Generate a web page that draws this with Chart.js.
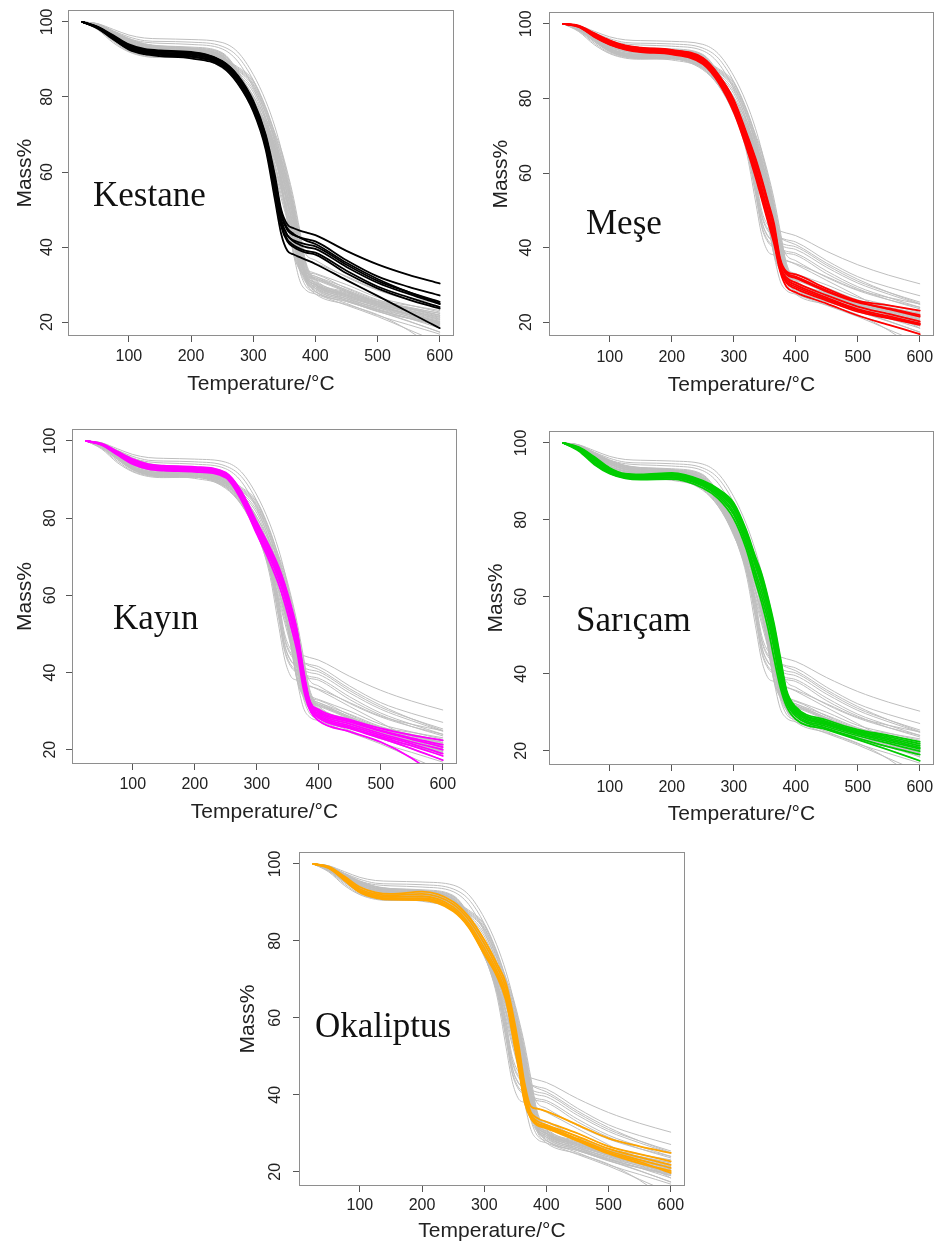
<!DOCTYPE html>
<html>
<head>
<meta charset="utf-8">
<script src="https://cdn.jsdelivr.net/npm/chart.js@4.4.1/dist/chart.umd.min.js"></script>
<style>
html,body{margin:0;padding:0;background:#fff;}
body{width:942px;height:1249px;position:relative;overflow:hidden;}
canvas{position:absolute;}
</style>
</head>
<body>
<canvas id="c1"></canvas>
<canvas id="c2"></canvas>
<canvas id="c3"></canvas>
<canvas id="c4"></canvas>
<canvas id="c5"></canvas>
<script>
// ---------------- DATA ----------------
const temps = [25,50,75,100,125,150,200,250,275,300,320,335,345,355,365,375,385,400,450,500,550,600];
const xTicks = [100,200,300,400,500,600];
const yTicks = [20,40,60,80,100];
const xTitle = 'Temperature/°C';
const yTitle = 'Mass%';
const speciesNames = ['Kestane','Meşe','Kayın','Sarıçam','Okaliptus'];
const speciesColors = ['#000000','#FF0000','#FF00FF','#00CD00','#FFA500'];

const kestane = [
 [100,98.7,96.4,94.0,92.8,92.4,92.0,89.6,85.8,79.0,70.0,59.0,50.0,46.0,45.0,44.4,43.9,43.2,39.0,35.4,32.6,30.3],
 [100,98.6,96.1,93.7,92.5,92.1,91.7,89.3,85.3,78.3,69.0,57.5,48.5,44.5,43.2,42.6,42.1,41.5,36.5,32.2,29.4,27.1],
 [100,98.5,95.8,93.3,92.1,91.6,91.2,88.9,84.7,77.5,68.0,56.0,47.0,43.0,41.8,41.2,40.7,40.2,35.3,31.0,28.0,25.4],
 [100,98.5,95.9,93.4,92.2,91.8,91.4,89.0,84.9,77.8,68.3,56.5,47.2,43.2,41.5,40.6,40.0,39.5,34.7,30.5,27.5,24.8],
 [100,98.3,95.5,92.9,91.7,91.2,90.7,88.4,84.2,76.8,67.0,55.0,46.0,42.0,40.5,39.6,39.0,38.5,33.7,29.5,26.6,24.0],
 [100,98.4,95.7,93.1,91.9,91.4,90.9,88.6,84.4,77.0,67.3,54.5,45.5,41.5,40.0,39.1,38.5,38.0,33.0,29.0,26.0,23.6],
 [100,98.2,95.3,92.6,91.4,90.9,90.3,88.0,83.6,76.2,66.0,52.5,43.5,39.0,38.0,37.3,36.6,35.5,31.2,27.0,22.7,18.4],
 [100,98.6,96.2,93.8,92.6,92.2,91.8,89.5,85.6,78.6,69.5,58.0,49.0,45.0,43.5,42.5,41.7,40.8,35.8,31.5,28.0,25.0]
];
const mese = [
 [100,99.5,97.5,95.6,94.2,93.6,93.0,90.9,86.5,79.7,71.0,64.0,58.5,52.5,46.5,37.0,33.6,32.8,29.0,25.8,24.5,23.1],
 [100,99.4,97.2,95.3,94.0,93.4,92.8,90.5,86.0,79.0,70.3,63.2,57.5,51.5,45.0,36.0,32.8,31.8,28.2,25.3,23.7,21.9],
 [100,99.3,97.0,95.0,93.7,93.1,92.5,90.2,85.5,78.2,69.5,62.0,56.0,50.0,43.5,35.0,32.0,30.6,27.2,24.2,22.2,20.2],
 [100,99.3,96.8,94.8,93.5,92.9,92.3,89.9,85.2,77.7,68.8,61.0,55.0,49.0,43.0,34.5,31.5,30.0,26.6,23.5,21.6,19.7],
 [100,99.2,96.6,94.5,93.2,92.6,92.0,89.5,84.8,77.0,68.0,60.0,54.0,48.0,42.0,34.0,30.5,29.0,25.8,22.8,21.0,19.3],
 [100,99.2,96.5,94.4,93.1,92.4,91.8,89.2,84.3,76.3,67.0,59.0,53.0,47.0,41.0,33.5,29.5,28.0,25.0,21.8,19.3,16.8],
 [100,99.4,97.3,95.4,94.1,93.5,92.9,90.7,86.3,79.3,70.6,63.5,58.0,52.0,45.5,36.5,33.2,32.2,28.5,25.5,23.5,21.5],
 [100,99.3,96.9,94.9,93.6,93.0,92.4,90.0,85.4,78.0,69.0,61.5,55.5,49.5,43.2,34.8,31.0,29.5,26.2,23.2,21.2,19.5]
];
const kayin = [
 [100,99.3,97.3,95.3,94.0,93.6,93.3,91.8,87.0,79.0,72.8,67.5,63.0,57.5,51.0,41.0,33.0,30.4,27.8,25.5,23.8,22.4],
 [100,99.2,97.0,95.0,93.7,93.3,93.0,91.5,86.5,78.3,72.0,66.6,62.0,56.4,50.0,40.0,32.4,29.8,27.2,24.8,22.7,20.7],
 [100,99.1,96.8,94.6,93.3,92.9,92.6,91.1,85.8,77.4,71.0,65.5,60.8,55.0,48.5,39.0,31.8,29.0,26.2,23.8,21.5,19.0],
 [100,99.0,96.6,94.3,93.0,92.6,92.3,90.8,85.2,76.6,70.0,64.3,59.5,53.6,47.0,37.5,31.0,28.2,25.5,23.0,20.3,17.3],
 [100,99.0,96.4,94.0,92.7,92.3,92.0,90.5,84.7,75.9,69.0,63.0,58.0,52.0,45.5,36.0,30.5,27.5,24.7,22.0,17.8,12.0],
 [100,99.2,97.1,95.1,93.8,93.4,93.1,91.6,86.8,78.7,72.4,67.1,62.5,57.0,50.5,40.5,32.7,30.0,27.5,25.0,23.0,21.3],
 [100,99.1,96.7,94.5,93.2,92.8,92.5,91.0,85.5,77.0,70.5,64.9,60.1,54.3,47.8,38.3,31.3,28.6,25.8,23.3,21.0,18.4],
 [100,99.1,96.9,94.8,93.5,93.1,92.8,91.3,86.2,77.9,71.5,66.1,61.5,55.7,49.0,39.5,32.0,29.4,26.7,24.2,22.0,20.0]
];
const saricam = [
 [100,98.9,96.4,93.5,92.0,91.8,92.2,90.2,88.0,84.4,77.4,70.4,66.0,60.0,53.0,44.4,35.8,31.4,28.0,25.5,24.0,22.3],
 [100,98.7,96.0,93.1,91.7,91.5,91.8,89.8,87.5,83.5,76.3,69.0,64.5,58.5,51.0,42.5,34.8,30.7,27.3,24.9,23.2,21.3],
 [100,98.5,95.6,92.8,91.4,91.2,91.5,89.4,87.0,82.8,75.5,68.0,63.0,57.0,49.5,41.0,34.0,30.0,26.7,24.3,22.4,20.5],
 [100,98.3,95.2,92.5,91.2,90.9,91.2,89.1,86.6,82.0,74.5,66.5,61.5,55.5,48.0,39.5,33.3,29.5,26.3,23.9,21.9,19.9],
 [100,98.1,94.8,92.2,91.0,90.7,90.9,88.8,86.1,81.3,73.6,65.5,60.0,54.0,46.5,38.0,32.5,29.0,25.8,23.3,21.0,19.0],
 [100,97.9,94.4,92.0,90.8,90.5,90.6,88.3,85.5,80.3,72.5,64.0,58.5,52.0,44.0,36.5,31.6,28.2,25.5,22.9,20.2,17.4],
 [100,98.8,96.2,93.3,91.8,91.6,92.0,90.0,87.7,84.0,76.9,69.7,65.3,59.3,52.0,43.5,35.3,31.0,27.6,25.2,23.6,21.8],
 [100,98.6,95.8,92.9,91.5,91.3,91.6,89.6,87.2,83.2,75.8,68.5,63.5,57.5,50.3,41.8,34.4,30.3,27.0,24.6,22.8,20.8]
];
const okaliptus = [
 [100,99.3,96.8,94.0,92.6,92.2,92.8,90.2,86.3,80.3,74.2,69.0,62.0,53.4,43.0,37.0,36.4,35.7,32.2,28.7,26.6,24.9],
 [100,99.2,96.5,93.5,92.2,91.8,92.2,89.5,85.5,79.3,73.3,67.8,60.5,51.5,41.5,35.5,34.0,33.0,30.0,26.6,24.6,22.7],
 [100,99.1,96.2,93.1,91.8,91.4,91.6,88.8,84.6,78.2,72.3,66.5,59.0,50.0,40.0,34.8,33.2,32.2,29.2,26.0,23.8,21.8],
 [100,99.0,96.0,92.8,91.5,91.0,91.1,88.3,84.0,77.3,71.5,65.5,57.5,48.5,39.0,34.3,32.6,31.8,28.6,25.4,23.1,21.0],
 [100,98.9,95.7,92.6,91.2,90.7,90.6,87.7,83.5,76.5,70.9,64.5,56.0,47.0,38.0,33.8,32.1,31.3,28.0,24.7,22.2,20.2],
 [100,99.0,95.9,92.7,91.3,90.9,90.9,88.0,83.7,76.8,71.2,65.0,56.8,47.7,38.5,34.0,32.3,31.5,28.3,25.0,22.6,19.7]
];
// additional grey-only samples visible in every panel
const otherSamples = [
 [100,99.5,98.0,96.5,95.7,95.5,95.3,94.5,92.0,86.0,79.0,72.0,66.0,58.0,50.0,42.0,38.0,36.5,32.0,28.5,26.0,24.0],
 [100,99.4,97.6,96.0,95.0,94.8,94.6,93.5,90.8,84.5,77.0,70.0,64.0,56.5,48.0,38.0,32.0,30.0,27.0,24.5,22.0,19.5],
 [100,99.3,97.2,95.5,94.6,94.3,94.0,92.8,89.5,82.5,74.5,66.0,57.0,47.0,38.0,31.0,28.5,27.5,24.5,21.5,18.0,14.5]
];
const allSpecies = [kestane, mese, kayin, saricam, okaliptus];

// ---------------- LAYOUT (page pixels) ----------------
const panels = [
 {id:'c1', cx:0,   cy:0,   cw:471, ch:400, L:68,  T:3,   R:454, B:336,  yTitleX:25,  yTickX:48,  lx:93,  ly:206,  tickDy:21, titleDy:48},
 {id:'c2', cx:471, cy:0,   cw:471, ch:400, L:549, T:3,   R:934, B:336,  yTitleX:501, yTickX:527, lx:586, ly:234,  tickDy:22, titleDy:49},
 {id:'c3', cx:0,   cy:400, cw:471, ch:428, L:72,  T:429, R:457, B:764,  yTitleX:25,  yTickX:51,  lx:113, ly:629,  tickDy:21, titleDy:48},
 {id:'c4', cx:471, cy:400, cw:471, ch:429, L:549, T:431, R:934, B:765,  yTitleX:496, yTickX:522, lx:576, ly:631,  tickDy:23, titleDy:49},
 {id:'c5', cx:230, cy:830, cw:480, ch:419, L:299, T:852, R:685, B:1186, yTitleX:248, yTickX:276, lx:315, ly:1037, tickDy:20, titleDy:45}
];

const TICK_FONT = 16, TITLE_FONT = 21, TL = 6;

const framePlugin = {
  id: 'frame',
  afterDraw(chart, args, o) {
    const {ctx, chartArea: a} = chart;
    ctx.save();
    ctx.strokeStyle = '#8e8e8e';
    ctx.lineWidth = 1;
    ctx.strokeRect(Math.round(a.left) + 0.5, Math.round(a.top) + 0.5,
                   Math.round(a.right - a.left) - 1, Math.round(a.bottom - a.top) - 1);
    ctx.fillStyle = '#111';
    ctx.font = '35px "Liberation Serif", "Times New Roman", serif';
    ctx.textBaseline = 'alphabetic';
    ctx.textAlign = 'left';
    ctx.fillText(o.label, o.lx, o.ly);
    ctx.restore();
  }
};

function lineData(row) { return temps.map((t, i) => ({x: t, y: row[i]})); }

panels.forEach((p, k) => {
  const cv = document.getElementById(p.id);
  cv.width = p.cw; cv.height = p.ch;
  cv.style.left = p.cx + 'px'; cv.style.top = p.cy + 'px';
  cv.style.width = p.cw + 'px'; cv.style.height = p.ch + 'px';

  const datasets = [];
  allSpecies[k].forEach(row => datasets.push({
    data: lineData(row), borderColor: speciesColors[k], borderWidth: 1.8, order: 0
  }));
  allSpecies.forEach(sp => sp.forEach(row => datasets.push({
    data: lineData(row), borderColor: '#BEBEBE', borderWidth: 1, order: 1
  })));
  otherSamples.forEach(row => datasets.push({
    data: lineData(row), borderColor: '#BEBEBE', borderWidth: 1, order: 1
  }));

  const yAxisW = p.L - p.cx;
  const xAxisH = p.cy + p.ch - p.B;
  const widestHalf = 3 * 0.556 * TICK_FONT / 2;

  new Chart(cv, {
    type: 'line',
    data: {datasets},
    plugins: [framePlugin],
    options: {
      responsive: false,
      animation: false,
      events: [],
      clip: 0,
      layout: {autoPadding: false, padding: {left: 0, top: p.T - p.cy, right: p.cx + p.cw - p.R, bottom: 0}},
      elements: {
        point: {radius: 0},
        line: {cubicInterpolationMode: 'monotone', fill: false, borderCapStyle: 'round', borderJoinStyle: 'round'}
      },
      plugins: {
        legend: {display: false},
        tooltip: {enabled: false},
        frame: {label: speciesNames[k], lx: p.lx - p.cx, ly: p.ly - p.cy}
      },
      scales: {
        x: {
          type: 'linear', min: 2, max: 623,
          afterBuildTicks: s => { s.ticks = xTicks.map(v => ({value: v})); },
          afterFit: s => { s.height = xAxisH; },
          grid: {drawOnChartArea: false, drawTicks: true, tickLength: TL, color: '#555', lineWidth: 1},
          border: {display: false},
          ticks: {
            color: '#222', maxRotation: 0, minRotation: 0, autoSkip: false,
            padding: p.tickDy - TL - 0.6 * TICK_FONT,
            font: {family: '"Liberation Sans", Arial, sans-serif', size: TICK_FONT}
          },
          title: {
            display: true, text: xTitle, color: '#222',
            font: {family: '"Liberation Sans", Arial, sans-serif', size: TITLE_FONT},
            padding: {top: 0, bottom: xAxisH - p.titleDy - 0.6 * TITLE_FONT}
          }
        },
        y: {
          type: 'linear', min: 16.3, max: 103.1,
          afterBuildTicks: s => { s.ticks = yTicks.map(v => ({value: v})); },
          afterFit: s => { s.width = yAxisW; },
          grid: {drawOnChartArea: false, drawTicks: true, tickLength: TL, color: '#555', lineWidth: 1},
          border: {display: false},
          ticks: {
            color: '#222', minRotation: 90, maxRotation: 90, crossAlign: 'center', autoSkip: false,
            padding: p.L - TL - widestHalf - p.yTickX,
            font: {family: '"Liberation Sans", Arial, sans-serif', size: TICK_FONT}
          },
          title: {
            display: true, text: yTitle, color: '#222',
            font: {family: '"Liberation Sans", Arial, sans-serif', size: TITLE_FONT},
            padding: {top: p.yTitleX - p.cx - 0.6 * TITLE_FONT, bottom: 0}
          }
        }
      }
    }
  });
});
</script>
</body>
</html>
